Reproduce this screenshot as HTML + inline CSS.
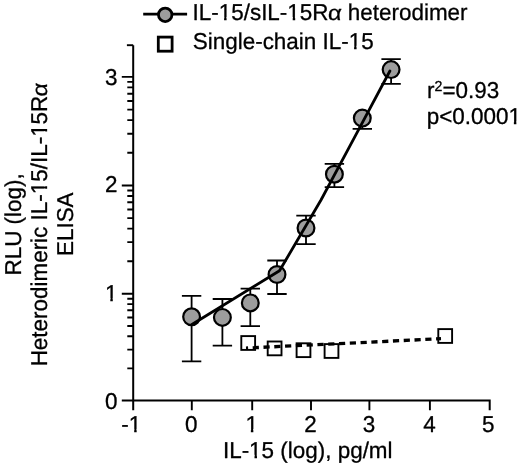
<!DOCTYPE html>
<html><head><meta charset="utf-8"><style>
html,body{margin:0;padding:0;background:#fff;width:520px;height:465px;overflow:hidden}
svg{display:block;will-change:transform}
text{text-rendering:geometricPrecision;font-family:"Liberation Sans",sans-serif;fill:#000;stroke:#000;stroke-width:0.3px;stroke-linejoin:round}
</style></head><body>
<svg width="520" height="465" viewBox="0 0 520 465">
<rect width="520" height="465" fill="#fff"/>
<path d="M133.2 45.2 V410.2 M121.8 400.6 H489.7 V410.2" fill="none" stroke="#000" stroke-width="2"/>
<path d="M126.9 45.2 H133.2" stroke="#000" stroke-width="1.9"/>
<path d="M191.8 400.6 V410.2 M252.2 400.6 V410.2 M311.0 400.6 V410.2 M369.4 400.6 V410.2 M429.9 400.6 V410.2 " stroke="#000" stroke-width="1.9"/>
<path d="M121.8 293.8 H133.2 M121.8 185.5 H133.2 M121.8 76.9 H133.2 " stroke="#000" stroke-width="1.9"/>
<path d="M127.3 368.4 H133.2 M127.3 349.6 H133.2 M127.3 336.3 H133.2 M127.3 326.0 H133.2 M127.3 317.5 H133.2 M127.3 310.3 H133.2 M127.3 304.1 H133.2 M127.3 298.7 H133.2 M127.3 261.2 H133.2 M127.3 242.1 H133.2 M127.3 228.6 H133.2 M127.3 218.1 H133.2 M127.3 209.5 H133.2 M127.3 202.3 H133.2 M127.3 196.0 H133.2 M127.3 190.5 H133.2 M127.3 152.8 H133.2 M127.3 133.7 H133.2 M127.3 120.1 H133.2 M127.3 109.6 H133.2 M127.3 101.0 H133.2 M127.3 93.7 H133.2 M127.3 87.4 H133.2 M127.3 81.9 H133.2 " stroke="#000" stroke-width="1.9"/>
<g transform="translate(131.3,431.9) scale(0.9803,1)"><text id="t1" text-anchor="middle" font-size="22.9">-1</text><path d="M-1.93 1.60V-2.81H2.93V1.60Z M5.47 1.60V-2.81H10.15V1.60Z" fill="#fff"/></g>
<g transform="translate(191.3,431.9) scale(0.9803,1)"><text id="t2" text-anchor="middle" font-size="22.9">0</text></g>
<g transform="translate(251.7,431.9) scale(0.9803,1)"><text id="t3" text-anchor="middle" font-size="22.9">1</text><path d="M-5.72 1.60V-2.81H-0.87V1.60Z M1.68 1.60V-2.81H6.35V1.60Z" fill="#fff"/></g>
<g transform="translate(310.5,431.9) scale(0.9803,1)"><text id="t4" text-anchor="middle" font-size="22.9">2</text></g>
<g transform="translate(368.9,431.9) scale(0.9803,1)"><text id="t5" text-anchor="middle" font-size="22.9">3</text></g>
<g transform="translate(429.4,431.9) scale(0.9803,1)"><text id="t6" text-anchor="middle" font-size="22.9">4</text></g>
<g transform="translate(488.3,431.9) scale(0.9803,1)"><text id="t7" text-anchor="middle" font-size="22.9">5</text></g>
<g transform="translate(117.4,409.2) scale(0.9803,1)"><text id="t8" text-anchor="end" font-size="22.9">0</text></g>
<g transform="translate(117.4,300.8) scale(0.9803,1)"><text id="t9" text-anchor="end" font-size="22.9">1</text><path d="M-12.09 1.60V-2.81H-7.24V1.60Z M-4.69 1.60V-2.81H-0.02V1.60Z" fill="#fff"/></g>
<g transform="translate(117.4,191.9) scale(0.9803,1)"><text id="t10" text-anchor="end" font-size="22.9">2</text></g>
<g transform="translate(117.4,85.3) scale(0.9803,1)"><text id="t11" text-anchor="end" font-size="22.9">3</text></g>
<g transform="translate(222.93,457.6) scale(0.9803,1)"><text id="t12" text-anchor="start" font-size="22.9">IL-15 (log), pg/ml</text><path d="M27.35 1.60V-2.81H32.20V1.60Z M34.75 1.60V-2.81H39.42V1.60Z" fill="#fff"/></g>
<g transform="translate(21.0,275.54) rotate(-90) scale(0.9803,1)"><text id="t13" text-anchor="start" font-size="22.9">RLU (log),</text></g>
<g transform="translate(46.8,366.34) rotate(-90) scale(0.9803,1)"><text id="t14" text-anchor="start" font-size="22.9">Heterodimeric IL-15/IL-15R</text><path d="M176.19 1.60V-2.81H181.05V1.60Z M183.59 1.60V-2.81H188.26V1.60Z" fill="#fff"/><path d="M234.72 1.60V-2.81H239.58V1.60Z M242.12 1.60V-2.81H246.80V1.60Z" fill="#fff"/></g>
<g transform="translate(46.85,97.0) rotate(-90) skewX(-5) scale(1.1200,1)"><text id="t15" text-anchor="start" font-size="21" font-family="Liberation Serif">&#945;</text></g>
<g transform="translate(72.8,256.04) rotate(-90) scale(0.9803,1)"><text id="t16" text-anchor="start" font-size="22.9">ELISA</text></g>
<g transform="translate(427.01,98.1) scale(0.9803,1)"><text id="t17" text-anchor="start" font-size="22.9">r<tspan font-size="14.5" dy="-6.9">2</tspan><tspan dy="6.9">=0.93</tspan></text></g>
<g transform="translate(426.75,124.2) scale(0.9803,1)"><text id="t18" text-anchor="start" font-size="22.9">p&lt;0.0001</text><path d="M84.02 1.60V-2.81H88.87V1.60Z M91.42 1.60V-2.81H96.09V1.60Z" fill="#fff"/></g>
<path d="M143.2 14.1 H187.1" stroke="#000" stroke-width="2.6"/>
<circle cx="165.2" cy="14.8" r="6.75" fill="#9d9d9d" stroke="#000" stroke-width="2.8"/>
<rect x="158.3" y="37.1" width="13.8" height="14.1" fill="#fff" stroke="#000" stroke-width="2.8"/>
<g transform="translate(192.53,19.8) scale(0.9803,1)"><text id="t19" text-anchor="start" font-size="22.9">IL-15/sIL-15R</text><path d="M27.35 1.60V-2.81H32.20V1.60Z M34.75 1.60V-2.81H39.42V1.60Z" fill="#fff"/><path d="M97.33 1.60V-2.81H102.19V1.60Z M104.73 1.60V-2.81H109.41V1.60Z" fill="#fff"/></g>
<g transform="translate(327.6,19.65) skewX(-5) scale(1.1200,1)"><text id="t20" text-anchor="start" font-size="21" font-family="Liberation Serif">&#945;</text></g>
<g transform="translate(347.84,19.8) scale(0.9803,1)"><text id="t21" text-anchor="start" font-size="22.9">heterodimer</text></g>
<g transform="translate(192.78,48.5) scale(0.9803,1)"><text id="t22" text-anchor="start" font-size="22.9">Single-chain IL-15</text><path d="M159.69 1.60V-2.81H164.55V1.60Z M167.09 1.60V-2.81H171.76V1.60Z" fill="#fff"/></g>
<rect x="241.3" y="336.1" width="13.8" height="13.8" fill="#fff" stroke="#000" stroke-width="1.9"/>
<rect x="267.7" y="341.5" width="13.8" height="13.8" fill="#fff" stroke="#000" stroke-width="1.9"/>
<rect x="296.6" y="343.3" width="13.8" height="13.8" fill="#fff" stroke="#000" stroke-width="1.9"/>
<rect x="324.6" y="344.1" width="13.8" height="13.8" fill="#fff" stroke="#000" stroke-width="1.9"/>
<rect x="438.3" y="329.1" width="13.8" height="13.8" fill="#fff" stroke="#000" stroke-width="1.9"/>
<path d="M246 348.1 L441 338.7" stroke="#000" stroke-width="3.3" stroke-dasharray="6.2 4.6" stroke-dashoffset="4.1"/>
<path d="M191.6 295.9 V361.4 M181.9 361.4 H201.3 M181.9 295.9 H201.3 M222.4 299 V345.7 M212.7 345.7 H232.1 M212.7 299 H232.1 M250.3 288.6 V326.2 M240.6 326.2 H260.0 M240.6 288.6 H260.0 M277 260.5 V294 M267.3 294 H286.7 M267.3 260.5 H286.7 M306 215.7 V244.1 M296.3 244.1 H315.7 M296.3 215.7 H315.7 M334.4 163.9 V187.1 M324.7 187.1 H344.1 M324.7 163.9 H344.1 M362.3 118.1 V128.9 M352.6 128.9 H372.0 M391.1 59.2 V83.9 M381.4 83.9 H400.8 M381.4 59.2 H400.8 " stroke="#000" stroke-width="1.8" fill="none"/>
<circle cx="191.6" cy="316.8" r="8.4" fill="#9d9d9d" stroke="#000" stroke-width="2.2"/>
<circle cx="222.4" cy="317.4" r="8.4" fill="#9d9d9d" stroke="#000" stroke-width="2.2"/>
<circle cx="250.3" cy="302.9" r="8.4" fill="#9d9d9d" stroke="#000" stroke-width="2.2"/>
<circle cx="277" cy="274.5" r="8.4" fill="#9d9d9d" stroke="#000" stroke-width="2.2"/>
<circle cx="306" cy="228" r="8.4" fill="#9d9d9d" stroke="#000" stroke-width="2.2"/>
<circle cx="334.4" cy="174.2" r="8.4" fill="#9d9d9d" stroke="#000" stroke-width="2.2"/>
<circle cx="362.3" cy="118.1" r="8.4" fill="#9d9d9d" stroke="#000" stroke-width="2.2"/>
<circle cx="391.1" cy="69.6" r="8.4" fill="#9d9d9d" stroke="#000" stroke-width="2.2"/>
<path d="M191.9 324.5 L279.5 270.8 L321 200 L352.9 140.3 L389.9 71.0" stroke="#000" stroke-width="2.8" fill="none" stroke-linecap="round" stroke-linejoin="round"/>
</svg>
</body></html>
